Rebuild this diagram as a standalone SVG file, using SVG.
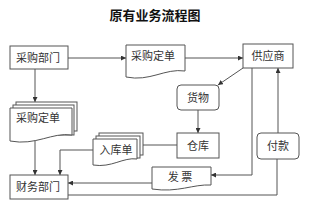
<svg xmlns="http://www.w3.org/2000/svg" width="311" height="210" viewBox="0 0 311 210">
<style>
.box{fill:#fff;stroke:#555;stroke-width:1}
.t{font-family:"Noto Sans CJK SC",sans-serif;font-size:11px;fill:#333;text-anchor:middle}
.title{font-family:"Noto Sans CJK SC",sans-serif;font-size:13px;font-weight:bold;fill:#111;text-anchor:middle}
.ln{fill:none;stroke:#555;stroke-width:1}
</style>
<defs>
<marker id="ar" viewBox="0 0 6 6" refX="6" refY="3" markerWidth="5" markerHeight="5" orient="auto" markerUnits="userSpaceOnUse">
<path d="M0,0 L6,3 L0,6 Z" fill="#333"/>
</marker>
</defs>
<rect width="311" height="210" fill="#fff"/>
<text class="title" x="155" y="20">原有业务流程图</text>

<g id="connectors">
<path class="ln" d="M68,58 H126" marker-end="url(#ar)"/>
<path class="ln" d="M185,58 H243" marker-end="url(#ar)"/>
<path class="ln" d="M35,69 V102" marker-end="url(#ar)"/>
<path class="ln" d="M243,68 L218,85" marker-end="url(#ar)"/>
<path class="ln" d="M198,110 V133" marker-end="url(#ar)"/>
<path class="ln" d="M252,68 V175 H211" marker-end="url(#ar)"/>
<path class="ln" d="M143,145 H177"/>
<path class="ln" d="M93,150 H60 V175" marker-end="url(#ar)"/>
<path class="ln" d="M35,140 V175" marker-end="url(#ar)"/>
<path class="ln" d="M153,183 H68" marker-end="url(#ar)"/>
<path class="ln" d="M68,195 H277 V159"/>
<path class="ln" d="M278,133 V68" marker-end="url(#ar)"/>
</g>

<g id="n-caigoubumen">
<rect class="box" x="10" y="46" width="58" height="23"/>
<text class="t" x="38" y="61.5">采购部门</text>
</g>

<g id="n-caigoudingdan-top">
<path class="box" d="M126,45 H185 V71 C165,68 150,82 126,77 Z"/>
<text class="t" x="153" y="60">采购定单</text>
</g>

<g id="n-gongyingshang">
<rect class="box" x="243" y="44" width="50" height="24"/>
<text class="t" x="268" y="60">供应商</text>
</g>

<g id="n-huowu">
<rect class="box" x="177" y="85" width="42" height="25" rx="4"/>
<text class="t" x="198" y="101.5">货物</text>
</g>

<g id="n-cangku">
<rect class="box" x="177" y="133" width="42" height="25"/>
<text class="t" x="198" y="149.5">仓库</text>
</g>

<g id="n-fukuan">
<rect class="box" x="257" y="133" width="42" height="26" rx="4"/>
<text class="t" x="278" y="150">付款</text>
</g>

<g id="n-caigoudingdan-stack">
<rect class="box" x="16" y="102" width="61" height="29"/>
<rect class="box" x="13" y="105" width="61" height="30"/>
<path class="box" d="M10,108 H72 V135 C52,132 36,146 10,141 Z"/>
<text class="t" x="38" y="122">采购定单</text>
</g>

<g id="n-rukudan">
<rect class="box" x="99" y="133" width="44" height="22"/>
<rect class="box" x="96" y="136" width="44" height="22"/>
<path class="box" d="M93,139 H137 V159 C123,157 112,168 93,165 Z"/>
<text class="t" x="116" y="154">入库单</text>
</g>

<g id="n-fapiao">
<path class="box" d="M152,167 H211 V185 C193,184 178,193 152,189 Z"/>
<text class="t" x="180" y="181">发 票</text>
</g>

<g id="n-caiwubumen">
<rect class="box" x="10" y="175" width="58" height="24"/>
<text class="t" x="38" y="191">财务部门</text>
</g>
</svg>
